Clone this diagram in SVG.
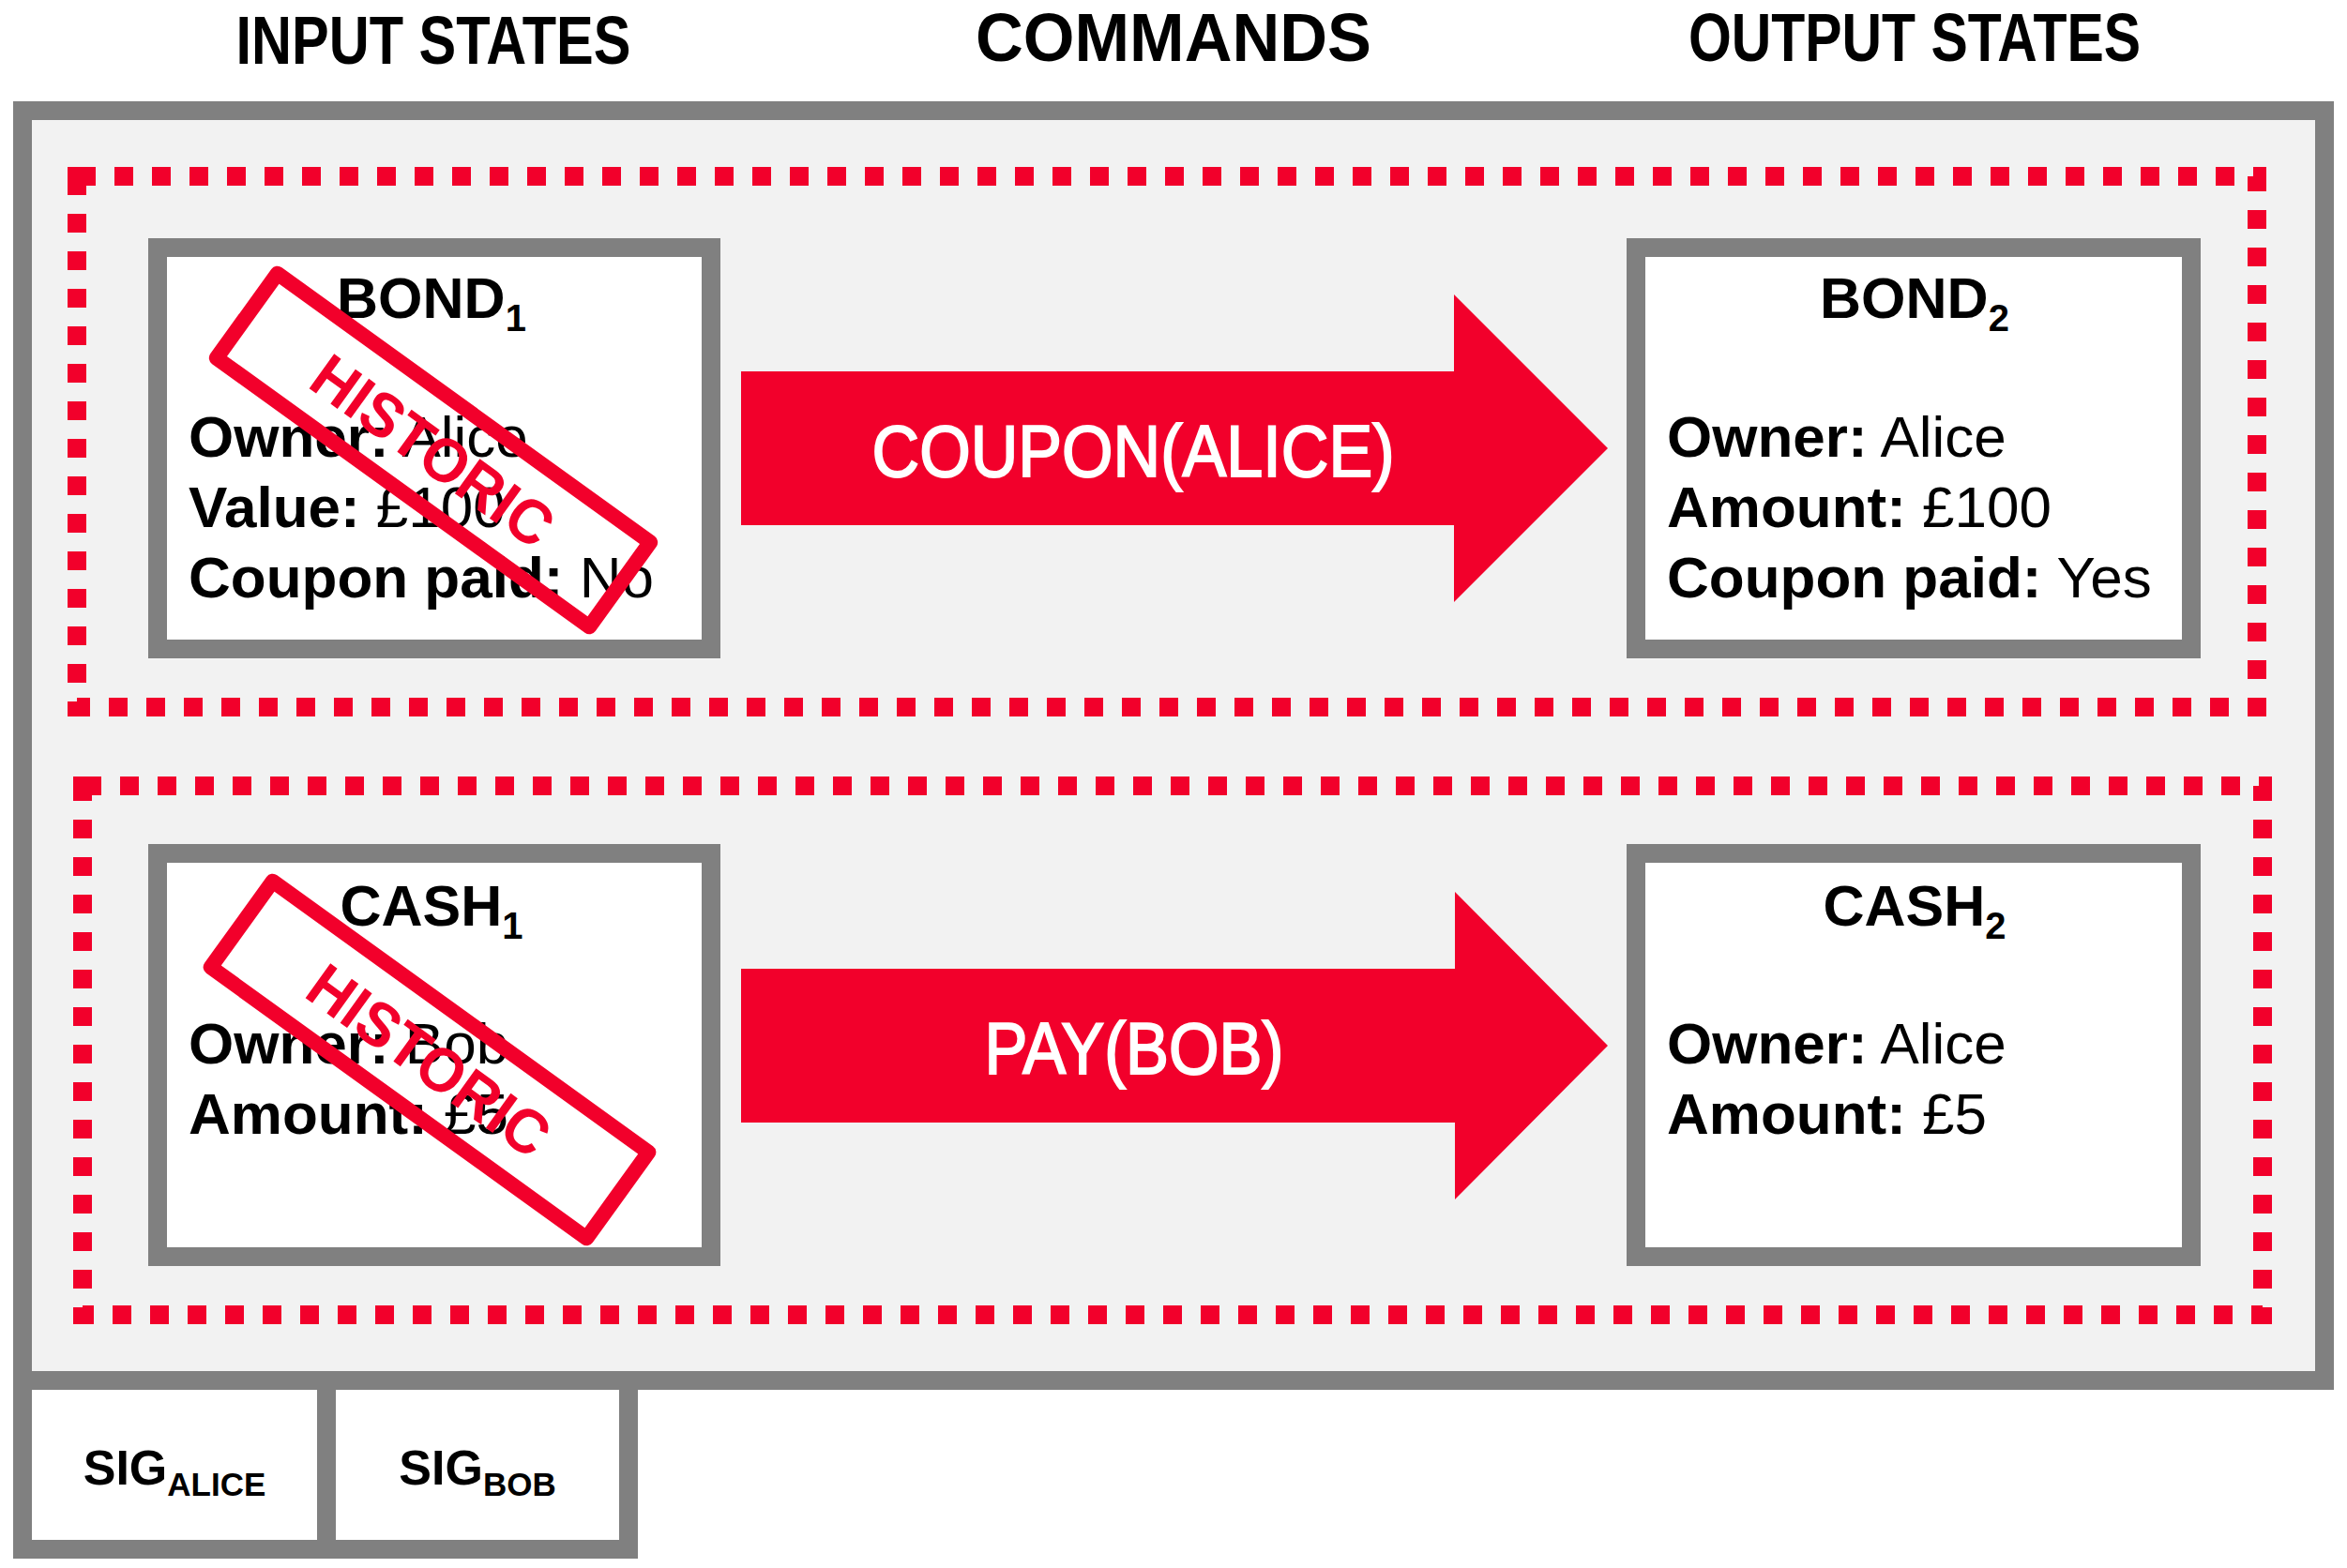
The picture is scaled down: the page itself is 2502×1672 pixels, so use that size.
<svg xmlns="http://www.w3.org/2000/svg" width="2502" height="1672" viewBox="0 0 2502 1672">
<style>
  .frame { fill: #F2F2F2; stroke: #808080; stroke-width: 20; }
  .box { fill: #FFFFFF; stroke: #808080; stroke-width: 20; }
  .group { fill: none; stroke: #F2002B; stroke-width: 20; stroke-dasharray: 20 20; }
  .arrow { fill: #F2002B; }
  .hdr { font-family: "Liberation Sans", Arial, sans-serif; font-weight: bold; font-size: 72px; fill: #000; text-anchor: middle; }
  .title { font-family: "Liberation Sans", Arial, sans-serif; font-weight: bold; font-size: 61px; fill: #000; text-anchor: middle; }
  .body { font-family: "Liberation Sans", Arial, sans-serif; font-size: 62px; fill: #000; }
  .body .k { font-weight: bold; }
  .cmd { font-family: "Liberation Sans", Arial, sans-serif; font-size: 78px; fill: #FFFFFF; stroke: #FFFFFF; stroke-width: 2; text-anchor: middle; }
  .sig { font-family: "Liberation Sans", Arial, sans-serif; font-weight: bold; font-size: 52px; fill: #000; text-anchor: middle; }
  .stamp rect { fill: none; stroke: #F2002B; stroke-width: 16; stroke-linejoin: round; }
  .stamp text { font-family: "Liberation Sans", Arial, sans-serif; font-weight: bold; font-size: 66px; fill: #F2002B; text-anchor: middle; }
</style>
<rect x="0" y="0" width="2502" height="1672" fill="#FFFFFF"/>

<g id="headers">
  <text class="hdr" x="462" y="68" textLength="421" lengthAdjust="spacingAndGlyphs">INPUT STATES</text>
  <text class="hdr" x="1251" y="65" textLength="422" lengthAdjust="spacingAndGlyphs">COMMANDS</text>
  <text class="hdr" x="2041" y="65" textLength="482" lengthAdjust="spacingAndGlyphs">OUTPUT STATES</text>
</g>

<g id="transaction">
  <rect class="frame" x="24" y="118" width="2454" height="1354"/>
</g>

<g id="sig-alice">
  <rect class="box" x="24" y="1472" width="324" height="180"/>
  <text class="sig" x="186" y="1583">SIG<tspan font-size="35" dy="12">ALICE</tspan></text>
</g>
<g id="sig-bob">
  <rect class="box" x="348" y="1472" width="322" height="180"/>
  <text class="sig" x="509" y="1583">SIG<tspan font-size="35" dy="12">BOB</tspan></text>
</g>

<g id="group-bond">
  <rect class="group" x="82" y="188" width="2324" height="566"/>
</g>
<g id="group-cash">
  <rect class="group" x="88" y="838" width="2324" height="564"/>
</g>

<g id="bond1">
  <rect class="box" x="168" y="264" width="590" height="428"/>
  <text class="title" x="460" y="339">BOND<tspan font-size="40" dy="14">1</tspan></text>
  <text class="body" x="201" y="487"><tspan class="k">Owner:</tspan> Alice</text>
  <text class="body" x="201" y="562"><tspan class="k">Value:</tspan> £100</text>
  <text class="body" x="201" y="637"><tspan class="k">Coupon paid:</tspan> No</text>
  <g class="stamp" transform="translate(462,480) rotate(35.8)">
    <rect x="-245" y="-55.5" width="490" height="111"/>
    <text x="0" y="24" textLength="300" lengthAdjust="spacingAndGlyphs">HISTORIC</text>
  </g>
</g>

<g id="bond2">
  <rect class="box" x="1744" y="264" width="592" height="428"/>
  <text class="title" x="2041" y="339">BOND<tspan font-size="40" dy="14">2</tspan></text>
  <text class="body" x="1777" y="487"><tspan class="k">Owner:</tspan> Alice</text>
  <text class="body" x="1777" y="562"><tspan class="k">Amount:</tspan> £100</text>
  <text class="body" x="1777" y="637"><tspan class="k">Coupon paid:</tspan> Yes</text>
</g>

<g id="cash1">
  <rect class="box" x="168" y="910" width="590" height="430"/>
  <text class="title" x="460" y="987">CASH<tspan font-size="40" dy="14">1</tspan></text>
  <text class="body" x="201" y="1134"><tspan class="k">Owner:</tspan> Bob</text>
  <text class="body" x="201" y="1209"><tspan class="k">Amount:</tspan> £5</text>
  <g class="stamp" transform="translate(458,1130) rotate(35.8)">
    <rect x="-247" y="-56.5" width="494" height="113"/>
    <text x="0" y="24" textLength="300" lengthAdjust="spacingAndGlyphs">HISTORIC</text>
  </g>
</g>

<g id="cash2">
  <rect class="box" x="1744" y="910" width="592" height="430"/>
  <text class="title" x="2041" y="987">CASH<tspan font-size="40" dy="14">2</tspan></text>
  <text class="body" x="1777" y="1134"><tspan class="k">Owner:</tspan> Alice</text>
  <text class="body" x="1777" y="1209"><tspan class="k">Amount:</tspan> £5</text>
</g>

<g id="connectors">
  <g id="cmd-coupon">
    <polygon class="arrow" points="790,396 1550,396 1550,314 1714,478 1550,642 1550,560 790,560"/>
    <text class="cmd" x="1208" y="508" textLength="557" lengthAdjust="spacingAndGlyphs">COUPON(ALICE)</text>
  </g>
  <g id="cmd-pay">
    <polygon class="arrow" points="790,1033 1551,1033 1551,951 1714,1115 1551,1279 1551,1197 790,1197"/>
    <text class="cmd" x="1209" y="1145" textLength="319" lengthAdjust="spacingAndGlyphs">PAY(BOB)</text>
  </g>
</g>
</svg>
